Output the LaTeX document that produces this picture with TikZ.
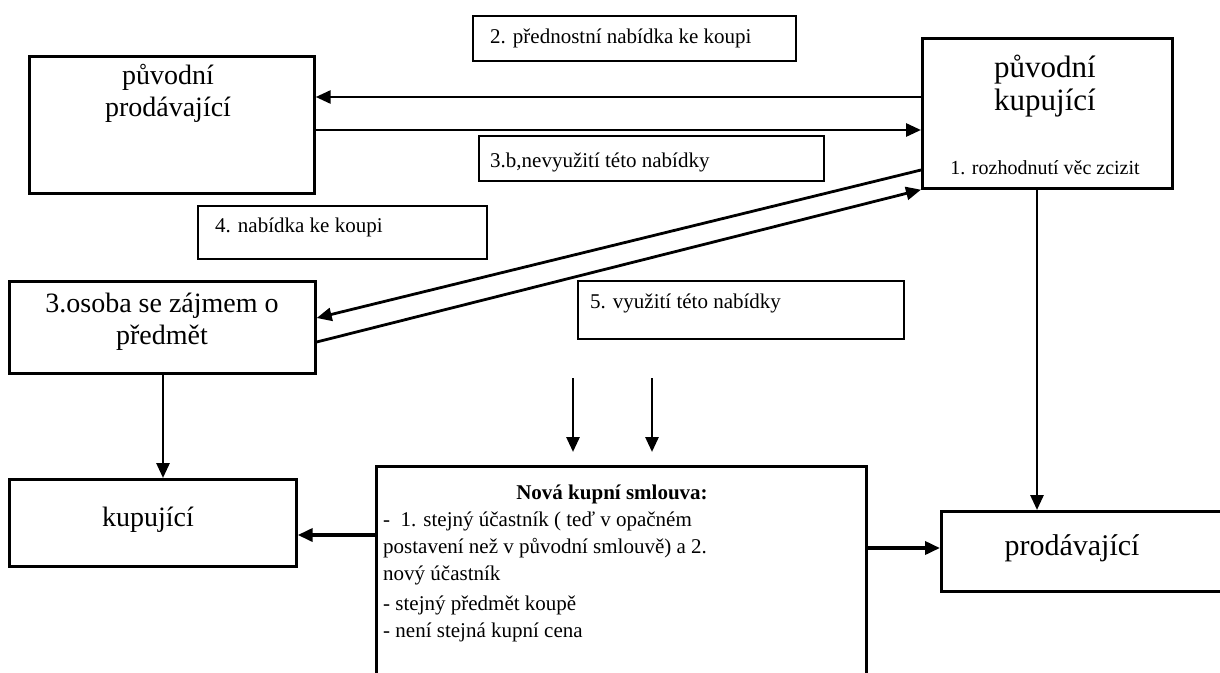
\documentclass[tikz,border=0pt]{standalone}
\usepackage{fontspec}
\setmainfont{Liberation Serif}
\usetikzlibrary{arrows.meta}
\begin{document}
\begin{tikzpicture}[x=1pt,y=-1pt,
  box/.style={draw, line width=2.7pt, anchor=north west, inner sep=0pt},
  tag/.style={draw, line width=2.4pt, anchor=north west, inner sep=0pt},
  txt/.style={inner sep=0pt, align=center},
  small/.style={inner sep=0pt, anchor=west, font=\fontsize{21}{25}\selectfont},
  arr/.style={line width=2.8pt, -{Triangle[length=15pt,width=13pt]}},
  heavy/.style={line width=3.6pt}]
\useasboundingbox (0,0) rectangle (1220,672);
\fill[white] (0,0) rectangle (1220,672);

% parties
\node[box, minimum width=285pt, minimum height=137pt] (A) at (28,55) {};
\node[txt, font=\fontsize{28}{32}\selectfont] (At) at (168,93) {původní\\prodávající};

\node[box, minimum width=250pt, minimum height=150pt] (B) at (921,37) {};
\node[txt, font=\fontsize{31}{33}\selectfont] (Bt) at (1045,86) {původní\\kupující};
\node[txt, font=\fontsize{20}{24}\selectfont] (Bs) at (1045,168) {1. rozhodnutí věc zcizit};

\node[box, minimum width=306pt, minimum height=92pt] (C) at (8,280) {};
\node[txt, font=\fontsize{28}{32}\selectfont] (Ct) at (162,322) {3.osoba se zájmem o\\předmět};

\node[box, minimum width=287pt, minimum height=87pt] (E) at (8,478) {};
\node[txt, font=\fontsize{28}{32}\selectfont] (Et) at (148,520) {kupující};

\node[box, minimum width=300pt, minimum height=80pt] (F) at (940,510) {};
\node[txt, font=\fontsize{30}{34}\selectfont] (Ft) at (1072,548) {prodávající};

% new contract
\node[box, minimum width=490pt, minimum height=240pt] (D) at (375,465) {};
\node[txt, font=\bfseries\fontsize{21}{25}\selectfont] (Dt) at (612,494) {Nová kupní smlouva:};
\node[inner sep=0pt, anchor=north west, align=left, font=\fontsize{21}{27}\selectfont] (Db) at (383,512)
  {-~~1. stejný účastník ( teď v opačném\\
   postavení než v původní smlouvě) a 2.\\
   nový účastník\\[3pt]
   - stejný předmět koupě\\
   - není stejná kupní cena};

% step labels
\node[tag, minimum width=323pt, minimum height=45pt] (L2) at (472,15) {};
\node[small] (L2t) at (490,38) {2. přednostní nabídka ke koupi};
\node[tag, minimum width=345pt, minimum height=45pt] (L3) at (478,135) {};
\node[small] (L3t) at (490,162) {3.b,nevyužití této nabídky};
\node[tag, minimum width=289pt, minimum height=53pt] (L4) at (197,205) {};
\node[small] (L4t) at (215,227) {4. nabídka ke koupi};
\node[tag, minimum width=326pt, minimum height=58pt] (L5) at (577,280) {};
\node[small] (L5t) at (590,303) {5. využití této nabídky};

% connectors
\draw[arr] (B.north west |- 0,97) -- (A.north east |- 0,97);
\draw[arr] (A.north east |- 0,130) -- (B.north west |- 0,130);
\draw[arr] (B.north west |- 0,170) -- (C.north east |- 0,318);
\draw[arr] (C.north east |- 0,342) -- (B.south west);
\coordinate (s1) at (573,378);
\coordinate (s2) at (652,378);
\draw[arr] (s1) -- (573,452);
\draw[arr] (s2) -- (652,452);
\draw[arr] (C.south west -| 163,0) -- (E.north west -| 163,0);
\draw[arr] (B.south west -| 1037,0) -- (F.north west -| 1037,0);
\draw[arr, heavy] (D.north west |- 0,535) -- (E.north east |- 0,535);
\draw[arr, heavy] (D.north east |- 0,548) -- (F.north west |- 0,548);
\end{tikzpicture}
\end{document}
